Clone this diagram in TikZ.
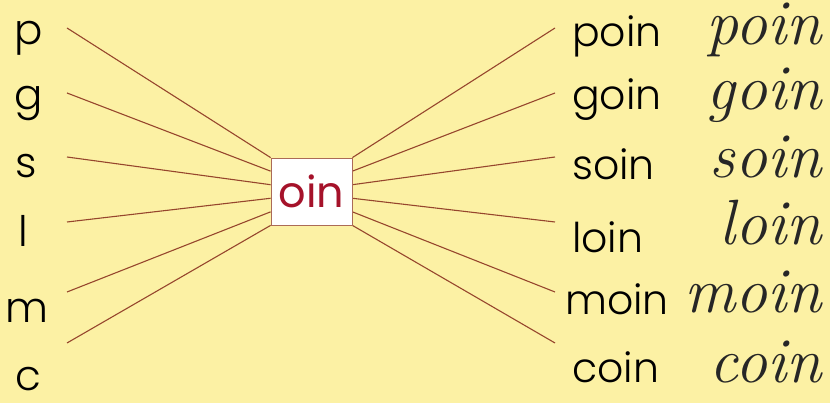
\documentclass[tikz,border=0pt]{standalone}
\usepackage{fontspec}
\setsansfont{Poppins}
\newfontfamily\thinsans{Poppins}[UprightFont=* Light]
\usepackage{graphicx}
\usepackage{xcolor}
\usetikzlibrary{calc,positioning,backgrounds}

\definecolor{paper}{RGB}{252,241,164}
\definecolor{ray}{RGB}{150,70,45}
\definecolor{sound}{RGB}{165,18,42}

\begin{document}
\begin{tikzpicture}[
  x=1pt, y=1pt,
  letter/.style={anchor=base, inner sep=0pt, font=\fontsize{42}{42}\thinsans},
  word/.style={anchor=base west, inner sep=0pt, font=\fontsize{41}{41}\thinsans},
  script/.style={anchor=base east, inner sep=0pt, font=\fontsize{64}{64}\rmfamily\itshape, text=black!85},
  soundbox/.style={draw=ray!80, fill=white, line width=0.8pt, minimum width=81pt, minimum height=67pt, inner sep=0pt,
    text=sound, font=\fontsize{43}{43}\sffamily},
  ray/.style={draw=ray, line width=1.1pt}
]
\begin{scope}[on background layer]
\fill[paper] (0,0) rectangle (830,403);
\end{scope}
\useasboundingbox (0,0) rectangle (830,403);

% onset letters
\node[letter] (p) at (29,358) {p};
\node[letter] (g) at (29,293) {g};
\node[letter] (s) at (26,225) {s};
\node[letter] (l) at (23,156) {l};
\node[letter] (m) at (27,80) {m};
\node[letter] (c) at (28,12) {c};

% the sound
\node[soundbox] (oin) at (311.5,211.5) {oin};

% words
\node[word] (poin) at (572,356) {poin};
\node[word] (goin) at (572,293) {goin};
\node[word] (soin) at (572,223) {soin};
\node[word] (loin) at (572,150) {loin};
\node[word] (moin) at (565,88) {moin};
\node[word] (coin) at (572,20) {coin};

\node[script] (poinc) at (822,358) {poin};
\node[script] (goinc) at (822,293) {goin};
\node[script] (soinc) at (822,225) {soin};
\node[script] (loinc) at (822,158) {loin};
\node[script] (moinc) at (822,90) {moin};
\node[script] (coinc) at (822,20) {coin};

% ray ends
\coordinate (pl) at (67,375);
\coordinate (gl) at (67,310);
\coordinate (sl) at (67,246);
\coordinate (ll) at (67,181);
\coordinate (ml) at (67,111);
\coordinate (cl) at (67,60);
\coordinate (pr) at (555,375);
\coordinate (gr) at (555,310);
\coordinate (sr) at (555,246);
\coordinate (lr) at (555,181);
\coordinate (mr) at (555,111);
\coordinate (cr) at (555,60);

\begin{scope}[on background layer]
\foreach \a/\i in {p/0,g/1,s/2,l/3,m/4,c/5}{
  \draw[ray] (\a l) -- ($(oin.north west)!\i/5!(oin.south west)$);
  \draw[ray] (\a r) -- ($(oin.north east)!\i/5!(oin.south east)$);
}
\end{scope}
\end{tikzpicture}
\end{document}
